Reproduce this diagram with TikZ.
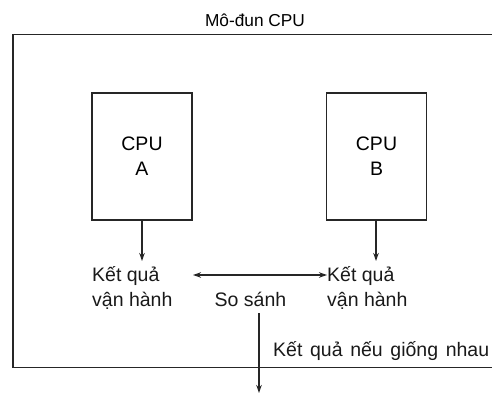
\documentclass[tikz,border=0pt]{standalone}
\usepackage{fontspec}
\setmainfont{Liberation Sans}
\usetikzlibrary{arrows.meta}
\begin{document}
\begin{tikzpicture}[x=1pt,y=1pt,
  line/.style={line width=1.3pt, draw=black!85},
  arr/.style={line width=1.2pt, draw=black!85, -{Stealth[length=8pt,width=5.5pt]}},
  darr/.style={line width=1.2pt, draw=black!85, {Stealth[length=8pt,width=5.5pt]}-{Stealth[length=8pt,width=5.5pt]}},
  txt/.style={inner sep=0pt, font=\fontsize{19.5}{25}\selectfont, text=black!90},
  cpubox/.style={line, minimum width=100pt, minimum height=127pt, inner sep=0pt, align=center, font=\fontsize{19.5}{25}\selectfont}]
\useasboundingbox (0,0) rectangle (492,397);
% outer module frame (right edge outside the picture)
\draw[line] (495,362.5) -- (13,362.5) -- (13,29.5) -- (495,29.5);
\node[inner sep=0pt, anchor=base, font=\fontsize{17.3}{20}\selectfont] (title) at (255,370) {Mô-đun CPU};
\node[cpubox] (cpua) at (142,240.5) {CPU\\A};
\node[cpubox] (cpub) at (376.5,240.5) {CPU\\B};
\node[txt, anchor=base west, align=left] (la) at (92,91) {Kết quả\\vận hành};
\node[txt, anchor=base west, align=left] (lb) at (327,91) {Kết quả\\vận hành};
\node[txt, anchor=base] (cmp) at (250.5,91) {So sánh};
\node[txt, anchor=base west] (res) at (273,41) {\hbox to 216pt{Kết\hskip 0pt plus 1fil\ quả\hskip 0pt plus 1fil\ nếu\hskip 0pt plus 1fil\ giống\hskip 0pt plus 1fil\ nhau}};
\coordinate (outp) at (259,4);
\coordinate (ta) at (142,136);
\coordinate (tb) at (376,136);
\coordinate (cl) at (193,122);
\draw[arr] (cpua.south) -- (ta);
\draw[arr] (cpub.south -| tb) -- (tb);
\draw[darr] (cl) -- (lb.west |- cl);
\draw[arr] ([yshift=-7pt]cmp.south -| outp) -- (outp);
\end{tikzpicture}
\end{document}
